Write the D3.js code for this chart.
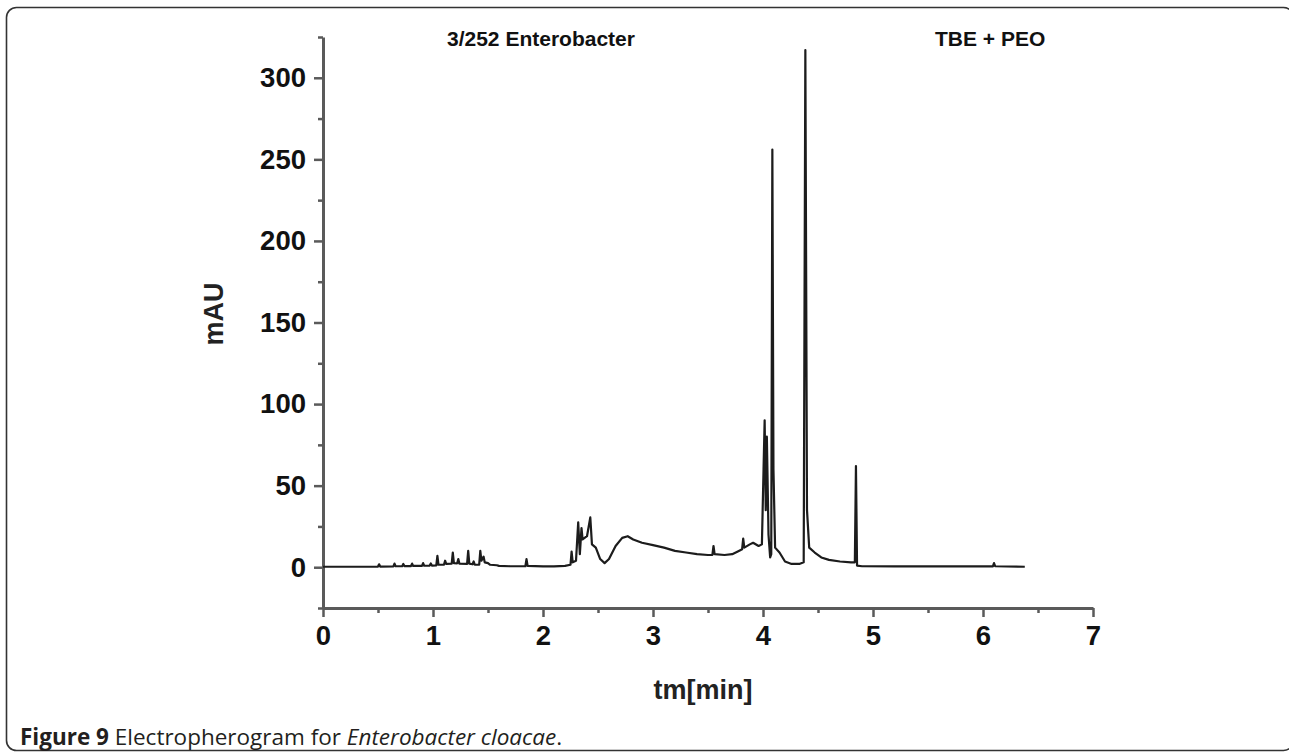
<!DOCTYPE html>
<html>
<head>
<meta charset="utf-8">
<script src="https://cdn.jsdelivr.net/npm/d3@7"></script>
<style>
  body { margin: 0; background: #fff; }
  svg { display: block; }
</style>
</head>
<body>
<svg id="chart" width="1289" height="752"></svg>
<script>
// trace: migration time [min] and absorbance [mAU]
var times = [
  0.00, 0.30, 0.50, 0.51, 0.52, 0.64, 0.65, 0.66, 0.72, 0.73, 0.74, 0.80, 0.81, 0.82,
  0.90, 0.91, 0.92, 0.97, 0.98, 0.99, 1.03, 1.04, 1.05, 1.10, 1.11, 1.12, 1.17, 1.18,
  1.19, 1.22, 1.23, 1.24, 1.31, 1.32, 1.33, 1.36, 1.37, 1.38, 1.42, 1.43, 1.44, 1.46,
  1.47, 1.50, 1.52, 1.58, 1.60, 1.70, 1.84, 1.85, 1.86, 2.00, 2.10, 2.20, 2.25, 2.26,
  2.27, 2.30, 2.32, 2.335, 2.35, 2.36, 2.40, 2.43, 2.445, 2.48, 2.52, 2.56, 2.60, 2.66,
  2.72, 2.77, 2.82, 2.90, 3.00, 3.10, 3.20, 3.30, 3.40, 3.50, 3.54, 3.55, 3.56, 3.65,
  3.72, 3.78, 3.81, 3.82, 3.83, 3.88, 3.91, 3.96, 3.99, 4.005, 4.015, 4.025, 4.035, 4.05,
  4.065, 4.075, 4.085, 4.095, 4.11, 4.15, 4.20, 4.26, 4.33, 4.37, 4.385, 4.40, 4.42, 4.47,
  4.53, 4.60, 4.70, 4.80, 4.835, 4.845, 4.855, 4.90, 5.20, 5.60, 6.00, 6.09, 6.10, 6.11,
  6.38
];
var signal = [
  0.3, 0.3, 0.4, 1.8, 0.4, 0.5, 2.2, 0.6, 0.6, 2.0, 0.7, 0.7, 2.2, 0.8,
  0.8, 2.5, 0.9, 1.0, 2.3, 1.0, 1.1, 7.0, 1.5, 1.6, 4.0, 2.0, 2.2, 9.0,
  2.5, 2.4, 5.0, 2.2, 2.0, 10.0, 2.2, 1.8, 3.5, 1.5, 1.6, 10.0, 4.0, 6.5,
  3.0, 2.5, 1.5, 1.2, 0.8, 0.6, 0.6, 5.0, 0.8, 0.5, 0.5, 0.8, 1.5, 9.5,
  3.0, 4.0, 27.5, 8, 24, 17, 19, 30.5, 14, 12, 5, 2.5, 5, 13,
  18, 19, 17, 15, 13.5, 12, 10, 9, 8, 7.5, 7.5, 13, 8, 7.5,
  8, 10, 11, 17.5, 12, 14, 15, 13, 14, 60, 90, 35, 80, 20,
  6, 8, 256, 60, 12, 9, 3.5, 2, 2, 3, 317, 35, 12, 9,
  6, 4.5, 3.5, 3, 3, 62, 1, 0.6, 0.5, 0.5, 0.5, 0.5, 2.5, 0.6,
  0.3
];

var xTicks = [0, 1, 2, 3, 4, 5, 6, 7];
var xMinor = [0.5, 1.5, 2.5, 3.5, 4.5, 5.5, 6.5];
var yTicks = [0, 50, 100, 150, 200, 250, 300];
var yMinor = [-25, 25, 75, 125, 175, 225, 275, 325];

var svg = d3.select("#chart");

// rounded frame round the figure (right side runs off the page)
svg.append("rect")
    .attr("x", 6.5).attr("y", 7.5)
    .attr("width", 1287).attr("height", 743)
    .attr("rx", 10).attr("ry", 10)
    .attr("fill", "none")
    .attr("stroke", "#333")
    .attr("stroke-width", 1.6);

var x = d3.scaleLinear().domain([0, 7]).range([323, 1093]);
var y = d3.scaleLinear().domain([-25, 325]).range([608, 37]);

var axisColor = "#5a5a5a";
var labelFont = "'Liberation Sans', Arial, sans-serif";

// minor ticks first, then the labelled ones
svg.append("g")
    .attr("transform", "translate(0,608)")
    .call(d3.axisBottom(x).tickValues(xMinor).tickSize(5).tickFormat(""))
    .call(function (g) { g.select(".domain").remove(); });
svg.append("g")
    .attr("transform", "translate(323,0)")
    .call(d3.axisLeft(y).tickValues(yMinor).tickSize(5).tickFormat(""))
    .call(function (g) { g.select(".domain").remove(); });

svg.append("g")
    .attr("transform", "translate(0,608)")
    .call(d3.axisBottom(x).tickValues(xTicks).tickFormat(d3.format("d"))
        .tickSize(9).tickPadding(8).tickSizeOuter(0));
svg.append("g")
    .attr("transform", "translate(323,0)")
    .call(d3.axisLeft(y).tickValues(yTicks).tickFormat(d3.format("d"))
        .tickSize(9).tickPadding(8).tickSizeOuter(0));

svg.selectAll(".tick line").attr("stroke", axisColor).attr("stroke-width", 2.5);
svg.selectAll(".domain").attr("stroke", axisColor).attr("stroke-width", 3);
svg.selectAll(".tick text")
    .attr("font-family", labelFont)
    .attr("font-weight", "bold")
    .attr("font-size", 27.5)
    .attr("fill", "#111");

// trace
var line = d3.line()
    .x(function (d) { return x(d[0]); })
    .y(function (d) { return y(d[1]); });
svg.append("path")
    .datum(d3.zip(times, signal))
    .attr("d", line)
    .attr("fill", "none")
    .attr("stroke", "#1c1c1c")
    .attr("stroke-width", 2.2)
    .attr("stroke-linejoin", "round");

// axis titles
svg.append("text")
    .attr("transform", "translate(223,314) rotate(-90)")
    .attr("text-anchor", "middle")
    .attr("font-family", labelFont)
    .attr("font-weight", "bold")
    .attr("font-size", 27)
    .attr("fill", "#222")
    .text("mAU");
svg.append("text")
    .attr("x", 703).attr("y", 699)
    .attr("text-anchor", "middle")
    .attr("font-family", labelFont)
    .attr("font-weight", "bold")
    .attr("font-size", 27)
    .attr("fill", "#222")
    .text("tm[min]");

// labels at the top
svg.append("text")
    .attr("x", 447).attr("y", 46)
    .attr("font-family", labelFont)
    .attr("font-weight", "bold")
    .attr("font-size", 21)
    .attr("fill", "#111")
    .text("3/252 Enterobacter");
svg.append("text")
    .attr("x", 935).attr("y", 46)
    .attr("font-family", labelFont)
    .attr("font-weight", "bold")
    .attr("font-size", 21)
    .attr("fill", "#111")
    .text("TBE + PEO");

// caption
var cap = svg.append("text")
    .attr("x", 20).attr("y", 745)
    .attr("font-family", "'Open Sans', 'Noto Sans', sans-serif")
    .attr("font-size", 22.5)
    .attr("fill", "#231f20");
cap.append("tspan").attr("font-weight", "bold").text("Figure 9");
cap.append("tspan").text(" Electropherogram for ");
cap.append("tspan").attr("font-style", "italic").text("Enterobacter cloacae");
cap.append("tspan").text(".");
</script>
</body>
</html>
